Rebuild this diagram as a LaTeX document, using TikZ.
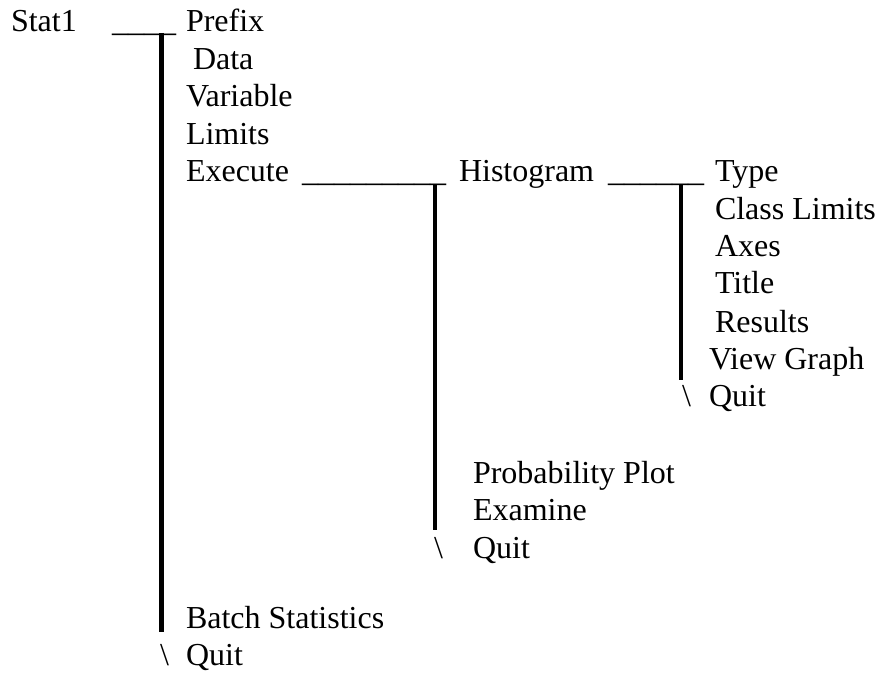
\documentclass[tikz,border=0pt]{standalone}
\usepackage{fontspec}
\setmainfont{Liberation Serif}
\newcommand{\us}[1]{\foreach \i in {1,...,#1}{\textunderscore}}
\begin{document}
\begin{tikzpicture}[x=1pt,y=-1pt,
  lbl/.style={anchor=base west, inner sep=0pt, outer sep=0pt, font=\fontsize{32}{38}\selectfont},
  bar/.style={line width=4.5pt, line cap=butt}]
\useasboundingbox (0,0) rectangle (881,679);
% level 1
\node[lbl] (stat) at (11,32) {Stat1};
\node[lbl] (u1) at (112,32) {\textunderscore\textunderscore\textunderscore\textunderscore};
\node[lbl] (prefix) at (186,32) {Prefix};
\node[lbl] (data) at (193,69.5) {Data};
\node[lbl] (variable) at (186,107) {Variable};
\node[lbl] (limits) at (186,144.5) {Limits};
\node[lbl] (execute) at (186,182) {Execute};
\node[lbl] (batch) at (186,628) {Batch Statistics};
\node[lbl] (bs1) at (160,665) {\textbackslash};
\node[lbl] (quit1) at (186,665) {Quit};
\coordinate (b1top) at (161.5,33);
\coordinate (b1bot) at (161.5,632);
\draw[bar] (b1top) -- (b1bot);
% level 2
\node[lbl] (u2) at (302,182) {\textunderscore\textunderscore\textunderscore\textunderscore\textunderscore\textunderscore\textunderscore\textunderscore\textunderscore};
\node[lbl] (histogram) at (459,182) {Histogram};
\node[lbl] (prob) at (473,483) {Probability Plot};
\node[lbl] (examine) at (473,520.5) {Examine};
\node[lbl] (bs2) at (434,558) {\textbackslash};
\node[lbl] (quit2) at (473,558) {Quit};
\coordinate (b2top) at (435,184);
\coordinate (b2bot) at (435,530);
\draw[bar] (b2top) -- (b2bot);
% level 3
\node[lbl] (u3) at (608,182) {\textunderscore\textunderscore\textunderscore\textunderscore\textunderscore\textunderscore};
\node[lbl] (type) at (715,182) {Type};
\node[lbl] (classl) at (715,220) {Class Limits};
\node[lbl] (axes) at (715,257) {Axes};
\node[lbl] (title) at (715,294) {Title};
\node[lbl] (results) at (715,332) {Results};
\node[lbl] (view) at (709,369) {View Graph};
\node[lbl] (bs3) at (682,406) {\textbackslash};
\node[lbl] (quit3) at (709,406) {Quit};
\coordinate (b3top) at (681,185);
\coordinate (b3bot) at (681,380);
\draw[bar] (b3top) -- (b3bot);
\end{tikzpicture}
\end{document}
